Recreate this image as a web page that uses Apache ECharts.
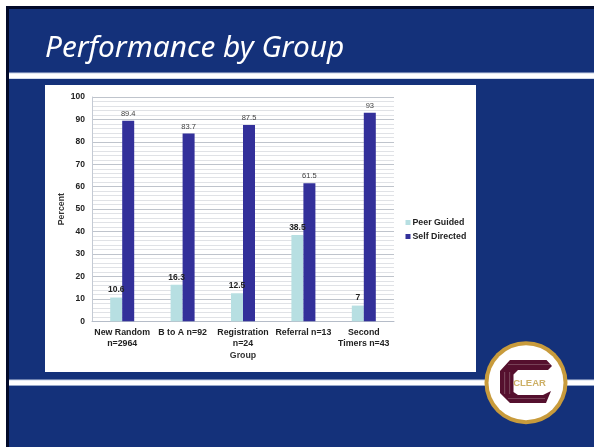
<!DOCTYPE html>
<html>
<head>
<meta charset="utf-8">
<style>html,body{margin:0;padding:0;background:#fff}#c{width:594px;height:447px}</style>
<script src="https://cdn.jsdelivr.net/npm/echarts@6/dist/echarts.min.js"></script>
</head>
<body>
<div id="c"></div>
<script>
const categories = ['New Random\nn=2964', 'B to A n=92', 'Registration\nn=24', 'Referral n=13', 'Second\nTimers n=43'];
const peerGuided = [10.6, 16.3, 12.5, 38.5, 7];
const selfDirected = [89.4, 83.7, 87.5, 61.5, 93];
const slideTitle = 'Performance by Group';

const NAVY = '#14317a', MAROON = '#55102e', GOLD = '#c89b3c';
const sans = '"Liberation Sans", Arial, sans-serif';

// Slide furniture: frame, rules, white chart panel
const slide = [
  { type: 'rect', shape: { x: 6, y: 6, width: 588, height: 441 }, style: { fill: '#020a2a' } },
  { type: 'rect', shape: { x: 9, y: 9, width: 585, height: 438 }, style: { fill: NAVY } },
  { type: 'rect', shape: { x: 9, y: 72.5, width: 585, height: 6.5 }, style: { fill: '#c5d0e4' } },
  { type: 'rect', shape: { x: 9, y: 73.5, width: 585, height: 4.8 }, style: { fill: '#fff' } },
  { type: 'rect', shape: { x: 9, y: 379.5, width: 585, height: 6.2 }, style: { fill: '#c5d0e4' } },
  { type: 'rect', shape: { x: 9, y: 380.5, width: 585, height: 4.5 }, style: { fill: '#fff' } },
  { type: 'rect', shape: { x: 45, y: 85, width: 431, height: 287 }, style: { fill: '#fff' } },
  { type: 'text', style: { x: 45, y: 48.5, text: slideTitle, fill: '#fff', font: 'italic 29.8px "Noto Sans", sans-serif', textVerticalAlign: 'middle' } }
];

// CLEAR badge at the lower right
const badge = [
  { type: 'circle', shape: { cx: 526, cy: 382.7, r: 41.5 }, style: { fill: GOLD } },
  { type: 'circle', shape: { cx: 526, cy: 382.7, r: 37.5 }, style: { fill: '#fff' } },
  { type: 'polygon', shape: { points: [[510, 360], [546.5, 360], [552, 366], [548, 370], [518, 370], [513.5, 374.5], [513.5, 392], [518, 395], [543, 395], [551, 391], [546, 403], [510, 403], [500, 393], [500, 371]] }, style: { fill: MAROON } },
  { type: 'rect', shape: { x: 508, y: 364.5, width: 42, height: 0.6 }, style: { fill: '#9a7480' } },
  { type: 'rect', shape: { x: 508, y: 398.5, width: 37, height: 0.6 }, style: { fill: '#9a7480' } },
  { type: 'rect', shape: { x: 504.5, y: 372, width: 0.6, height: 22 }, style: { fill: '#9a7480' } },
  { type: 'rect', shape: { x: 509.5, y: 372, width: 0.6, height: 22 }, style: { fill: '#9a7480' } },
  { type: 'text', style: { x: 529.5, y: 383.5, text: 'CLEAR', fill: '#cdb066', font: 'bold 9.5px ' + sans, textAlign: 'center', textVerticalAlign: 'middle' } }
];

const chart = echarts.init(document.getElementById('c'), null, { renderer: 'canvas' });
chart.setOption({
  animation: false,
  graphic: [
    { type: 'group', z: -5, children: slide },
    { type: 'group', z: 20, children: badge }
  ],
  grid: { left: 92, top: 97, width: 302, height: 224.3 },
  legend: {
    orient: 'vertical', left: 400.5, top: 213, itemWidth: 5, itemHeight: 5, itemGap: 5, icon: 'rect',
    textStyle: { fontFamily: sans, fontSize: 8.8, fontWeight: 'bold', color: '#222', padding: [0, 0, 0, -3] }
  },
  xAxis: {
    type: 'category', data: categories,
    name: 'Group', nameLocation: 'middle', nameGap: 30, nameMoveOverlap: false,
    nameTextStyle: { fontFamily: sans, fontSize: 8.8, fontWeight: 'bold', color: '#333' },
    axisTick: { show: false },
    axisLine: { lineStyle: { color: '#b5bcc8', width: 1 } },
    axisLabel: { fontFamily: sans, fontSize: 8.8, fontWeight: 'bold', color: '#222', interval: 0, margin: 6, lineHeight: 10.8 }
  },
  yAxis: {
    type: 'value', min: 0, max: 100, interval: 10,
    name: 'Percent', nameLocation: 'middle', nameGap: 25.5, nameRotate: 90, nameMoveOverlap: false,
    nameTextStyle: { fontFamily: sans, fontSize: 8.8, fontWeight: 'bold', color: '#333' },
    axisLine: { show: true, lineStyle: { color: '#c4cad4' } },
    axisTick: { show: false },
    axisLabel: { fontFamily: sans, fontSize: 8.5, fontWeight: 'bold', color: '#222', margin: 7 },
    splitLine: { lineStyle: { color: '#bfc4cc', width: 1 } },
    minorTick: { show: false, splitNumber: 5 },
    minorSplitLine: { show: true, lineStyle: { color: '#e0e2e6', width: 1 } }
  },
  series: [
    {
      name: 'Peer Guided', type: 'bar', data: peerGuided, barWidth: 12, barGap: 0,
      itemStyle: { color: '#b7dfe2' },
      label: { show: true, position: 'top', distance: 3, fontFamily: sans, fontSize: 8.5, fontWeight: 'bold', color: '#222' }
    },
    {
      name: 'Self Directed', type: 'bar', data: selfDirected, barWidth: 12,
      itemStyle: { color: '#33309a' },
      label: { show: true, position: 'top', distance: 3, fontFamily: sans, fontSize: 7.5, color: '#444' }
    }
  ]
});
</script>
</body>
</html>
